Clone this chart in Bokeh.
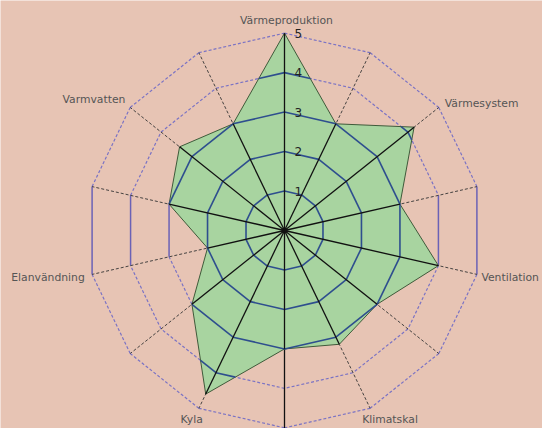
import math
from bokeh.plotting import figure
from bokeh.models import Range1d
from bokeh.core.properties import value
from bokeh.embed import file_html
from bokeh.resources import INLINE

# ---- data ----
axis_labels = ["Värmeproduktion", "", "Värmesystem", "", "Ventilation", "", "Klimatskal",
               "", "Kyla", "", "Elanvändning", "", "Varmvatten", ""]
scores = [5, 3, 4.2, 3, 4, 3, 3.2, 3, 4.6, 3, 2, 3, 3.4, 3]
ring_levels = [1, 2, 3, 4, 5]
tick_labels = ["1", "2", "3", "4", "5"]

# ---- styling ----
BG = "#e7c4b4"
GREEN = "#a8d4a0"
RING_IN = "#2e4e8e"
RING_OUT = "#7b73c4"
TEXT = "#555555"
FONT = value("DejaVu Sans")

W, H = 542, 428
K = 39.47           # pixels per unit
CX, CY = 284, 230   # centre in figure pixels

n = len(scores)
vmax = max(ring_levels)
ang = [math.pi / 2 - 2 * math.pi * i / n for i in range(n)]
ux = [math.cos(a) for a in ang]
uy = [math.sin(a) for a in ang]

p = figure(width=W, height=H, output_backend="svg", toolbar_location=None,
           x_range=Range1d(-CX / K, (W - CX) / K), y_range=Range1d(-(H - CY) / K, CY / K),
           min_border=0, background_fill_color=BG, border_fill_color=BG)
p.axis.visible = False
p.grid.visible = False
p.outline_line_color = None

# ---- outer (dashed) grid under fill ----
dxs, dys, vxs, vys = [], [], [], []
for L in ring_levels:
    for i in range(n):
        j = (i + 1) % n
        x0, y0, x1, y1 = L * ux[i], L * uy[i], L * ux[j], L * uy[j]
        if abs(x0 - x1) < 1e-9:
            vxs.append([x0, x1]); vys.append([y0, y1])
        else:
            dxs.append([x0, x1]); dys.append([y0, y1])
p.multi_line(dxs, dys, line_color=RING_OUT, line_width=1.2, line_dash="3 2")
p.multi_line(vxs, vys, line_color="#6a62b6", line_width=1.5)

sx = [[0, vmax * ux[i]] for i in range(n)]
sy = [[0, vmax * uy[i]] for i in range(n)]
p.multi_line(sx, sy, line_color="#333333", line_width=0.9, line_dash="3 2")
# bottom spoke runs to the edge of the picture
p.line([0, 0], [0, -(H - CY) / K], line_color="#111111", line_width=1.3)

# ---- data polygon ----
px = [scores[i] * ux[i] for i in range(n)]
py = [scores[i] * uy[i] for i in range(n)]
p.patch(px, py, fill_color=GREEN, line_color="#3f5a3a", line_width=1)

# ---- inner (solid) grid clipped to polygon ----
ixs, iys = [], []
for L in ring_levels:
    for i in range(n):
        j = (i + 1) % n
        vi, vj = scores[i], scores[j]
        ax_, ay_ = L * ux[i], L * uy[i]
        bx_, by_ = L * ux[j], L * uy[j]
        ins_i = L <= vi + 1e-9
        ins_j = L <= vj + 1e-9
        if ins_i and ins_j:
            ixs.append([ax_, bx_]); iys.append([ay_, by_])
        elif ins_i or ins_j:
            t = (vi - L) * vj / (L * (vi - vj))
            qx, qy = ax_ + t * (bx_ - ax_), ay_ + t * (by_ - ay_)
            if ins_i:
                ixs.append([ax_, qx]); iys.append([ay_, qy])
            else:
                ixs.append([qx, bx_]); iys.append([qy, by_])
p.multi_line(ixs, iys, line_color=RING_IN, line_width=1.6)

ssx = [[0, scores[i] * ux[i]] for i in range(n)]
ssy = [[0, scores[i] * uy[i]] for i in range(n)]
p.multi_line(ssx, ssy, line_color="#111111", line_width=1.3)

p.scatter([0], [0], size=5, color="#111111")

# ---- tick labels ----
p.text(x=[0] * len(ring_levels), y=ring_levels, text=tick_labels, x_offset=10,
       text_baseline="middle", text_align="left", text_font=FONT,
       text_font_size="12px", text_color="#222222")

# ---- axis labels ----
label_style = {
    0: ("center", 2, -13),
    2: ("left", 6, -3.5),
    4: ("left", 4.5, 2.8),
    6: ("left", -8, 11),
    8: ("right", 4, 11),
    10: ("right", -7.3, 2.8),
    12: ("right", -4.8, -7.8),
}
for i, lab in enumerate(axis_labels):
    if not lab:
        continue
    al, xo, yo = label_style[i]
    p.text(x=[vmax * ux[i]], y=[vmax * uy[i]], text=[lab], x_offset=xo, y_offset=yo,
           text_align=al, text_baseline="middle", text_font=FONT,
           text_font_size="10.8px", text_color=TEXT)

html = file_html(p, INLINE)
html = html.replace("<body>", '<body style="background-color:%s;">' % BG, 1)
open("out.html", "w").write(html)
